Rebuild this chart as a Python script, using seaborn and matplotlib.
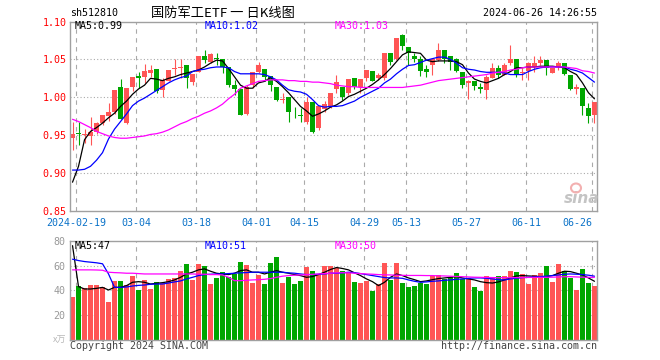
import numpy as np
import pandas as pd
import matplotlib
matplotlib.use("Agg")
import matplotlib.pyplot as plt
import seaborn as sns
from matplotlib.patches import Ellipse

# daily K data, 2024-02-08 .. 2024-06-26 (one candle per trading day)
open_ = [0.946, 0.953, 0.950, 0.949, 0.954, 0.966, 0.975, 0.981, 1.014, 0.966,
         1.013, 1.028, 1.027, 1.032, 1.037, 1.010, 1.022, 1.037, 1.039, 1.042,
         1.020, 1.034, 1.054, 1.047, 1.052, 1.051, 1.040, 1.016, 1.011, 0.978,
         1.016, 1.034, 1.037, 1.028, 1.014, 0.997, 1.000, 0.977, 0.976, 0.968,
         0.994, 0.959, 0.985, 0.988, 1.011, 1.013, 1.006, 1.025, 1.013, 1.025,
         1.035, 1.025, 1.025, 1.059, 1.051, 1.082, 1.067, 1.054, 1.051, 1.037,
         1.042, 1.049, 1.063, 1.054, 1.050, 1.033, 1.019, 1.022, 1.014, 1.009,
         1.026, 1.039, 1.030, 1.045, 1.051, 1.032, 1.035, 1.040, 1.045, 1.049,
         1.032, 1.040, 1.045, 1.029, 1.011, 1.012, 0.986, 0.976]
high = [0.967, 0.967, 0.958, 0.974, 0.968, 0.977, 0.992, 1.010, 1.024, 1.012,
        1.027, 1.034, 1.044, 1.042, 1.037, 1.025, 1.036, 1.051, 1.050, 1.042,
        1.031, 1.054, 1.062, 1.059, 1.058, 1.051, 1.040, 1.023, 1.011, 1.016,
        1.034, 1.046, 1.037, 1.028, 1.014, 1.006, 1.000, 0.987, 0.986, 1.001,
        0.994, 0.988, 0.995, 1.006, 1.030, 1.013, 1.024, 1.025, 1.024, 1.036,
        1.035, 1.032, 1.059, 1.059, 1.078, 1.084, 1.067, 1.059, 1.054, 1.043,
        1.051, 1.072, 1.063, 1.054, 1.052, 1.033, 1.023, 1.022, 1.019, 1.030,
        1.045, 1.043, 1.045, 1.069, 1.051, 1.039, 1.047, 1.055, 1.054, 1.049,
        1.039, 1.048, 1.045, 1.029, 1.017, 1.012, 0.992, 0.994]
low = [0.930, 0.937, 0.940, 0.937, 0.952, 0.963, 0.969, 0.978, 0.972, 0.965,
       1.008, 1.012, 1.019, 1.027, 1.006, 1.000, 1.021, 1.030, 1.025, 1.012,
       1.016, 1.033, 1.045, 1.045, 1.043, 1.032, 1.014, 1.003, 0.976, 0.976,
       1.012, 1.032, 1.021, 1.008, 0.995, 0.992, 0.968, 0.973, 0.968, 0.965,
       0.953, 0.957, 0.981, 0.986, 1.006, 0.997, 1.003, 1.011, 1.006, 1.021,
       1.021, 1.023, 1.023, 1.043, 1.049, 1.062, 1.043, 1.047, 1.028, 1.027,
       1.030, 1.048, 1.045, 1.036, 1.033, 1.012, 0.998, 1.010, 1.006, 0.998,
       1.025, 1.025, 1.030, 1.043, 1.027, 1.023, 1.023, 1.034, 1.042, 1.029,
       1.032, 1.036, 1.030, 1.010, 1.004, 0.976, 0.966, 0.966]
close = [0.951, 0.952, 0.951, 0.954, 0.966, 0.976, 0.980, 1.010, 0.972, 1.012,
         1.027, 1.026, 1.035, 1.036, 1.008, 1.023, 1.036, 1.039, 1.040, 1.025,
         1.031, 1.054, 1.049, 1.057, 1.050, 1.040, 1.016, 1.011, 0.977, 1.013,
         1.034, 1.043, 1.027, 1.016, 0.997, 0.998, 0.981, 0.976, 0.975, 0.994,
         0.954, 0.988, 0.991, 1.006, 1.020, 1.001, 1.024, 1.013, 1.024, 1.036,
         1.022, 1.030, 1.059, 1.046, 1.078, 1.068, 1.059, 1.050, 1.035, 1.033,
         1.050, 1.063, 1.050, 1.046, 1.035, 1.016, 1.022, 1.015, 1.011, 1.027,
         1.039, 1.030, 1.043, 1.051, 1.030, 1.033, 1.045, 1.045, 1.049, 1.038,
         1.038, 1.045, 1.031, 1.011, 1.013, 0.988, 0.975, 0.994]
ma5 = [0.888, 0.909, 0.944, 0.955, 0.960, 0.966, 0.973, 0.979, 0.988, 0.995,
       1.004, 1.011, 1.016, 1.025, 1.024, 1.022, 1.025, 1.027, 1.030, 1.032,
       1.034, 1.036, 1.040, 1.045, 1.049, 1.048, 1.038, 1.027, 1.016, 1.012,
       1.012, 1.019, 1.021, 1.026, 1.021, 1.014, 1.006, 0.997, 0.988, 0.982,
       0.975, 0.978, 0.982, 0.987, 0.990, 0.995, 1.001, 1.004, 1.008, 1.012,
       1.017, 1.023, 1.030, 1.038, 1.047, 1.056, 1.060, 1.059, 1.058, 1.049,
       1.047, 1.048, 1.048, 1.048, 1.047, 1.043, 1.032, 1.024, 1.021, 1.019,
       1.022, 1.025, 1.030, 1.034, 1.039, 1.039, 1.040, 1.040, 1.041, 1.041,
       1.041, 1.040, 1.039, 1.034, 1.030, 1.019, 1.006, 0.998]
ma10 = [0.904, 0.904, 0.905, 0.909, 0.917, 0.927, 0.945, 0.958, 0.968, 0.978,
        0.989, 0.995, 0.999, 1.004, 1.009, 1.014, 1.019, 1.023, 1.026, 1.028,
        1.034, 1.036, 1.037, 1.039, 1.040, 1.040, 1.039, 1.034, 1.031, 1.031,
        1.031, 1.031, 1.030, 1.027, 1.023, 1.016, 1.010, 1.008, 1.007, 1.004,
        0.997, 0.989, 0.987, 0.988, 0.988, 0.989, 0.992, 0.995, 1.000, 1.004,
        1.008, 1.012, 1.019, 1.024, 1.031, 1.037, 1.042, 1.043, 1.046, 1.049,
        1.051, 1.053, 1.053, 1.050, 1.045, 1.039, 1.037, 1.036, 1.034, 1.033,
        1.033, 1.033, 1.032, 1.030, 1.030, 1.030, 1.034, 1.037, 1.039, 1.040,
        1.040, 1.040, 1.040, 1.037, 1.035, 1.032, 1.026, 1.020]
ma30 = [0.971, 0.968, 0.964, 0.960, 0.955, 0.952, 0.949, 0.947, 0.946, 0.946,
        0.947, 0.948, 0.949, 0.951, 0.952, 0.954, 0.957, 0.961, 0.965, 0.968,
        0.972, 0.975, 0.979, 0.982, 0.986, 0.991, 0.998, 1.004, 1.012, 1.015,
        1.018, 1.021, 1.022, 1.023, 1.023, 1.023, 1.022, 1.022, 1.021, 1.021,
        1.020, 1.020, 1.019, 1.018, 1.016, 1.015, 1.014, 1.014, 1.013, 1.013,
        1.013, 1.013, 1.013, 1.013, 1.013, 1.013, 1.014, 1.015, 1.016, 1.018,
        1.020, 1.022, 1.023, 1.024, 1.025, 1.026, 1.027, 1.028, 1.029, 1.030,
        1.032, 1.033, 1.034, 1.036, 1.037, 1.039, 1.040, 1.040, 1.040, 1.040,
        1.040, 1.040, 1.040, 1.039, 1.038, 1.035, 1.034, 1.032]

# volume (x万)
volume = [34.3, 43.8, 41.9, 44.6, 44.6, 43.0, 30.8, 47.8, 47.8, 44.6,
          51.9, 40.5, 48.6, 41.4, 46.8, 45.9, 49.5, 50.3, 55.9, 61.6,
          48.6, 61.6, 60.0, 45.4, 50.3, 55.1, 51.1, 53.5, 63.2, 60.8,
          46.2, 52.7, 45.4, 62.4, 66.5, 46.2, 51.1, 45.4, 47.8, 59.2,
          55.9, 52.7, 60.0, 60.0, 58.1, 55.9, 54.6, 47.0, 45.7, 47.8,
          39.2, 45.1, 61.9, 48.4, 62.4, 46.2, 43.0, 43.8, 45.7, 45.1,
          51.9, 52.7, 49.2, 51.1, 53.8, 49.2, 50.0, 43.0, 39.2, 51.9,
          50.0, 51.9, 51.9, 55.4, 55.1, 53.2, 44.9, 52.7, 54.3, 60.0,
          47.0, 61.1, 55.9, 50.0, 40.5, 56.8, 45.7, 43.2]
vma5 = [76.0, 43.0, 41.1, 41.1, 41.6, 42.4, 40.3, 42.4, 42.4, 43.8,
        46.5, 47.0, 46.5, 45.1, 45.7, 46.2, 47.0, 48.4, 50.5, 53.2,
        54.6, 56.5, 57.3, 55.4, 53.8, 53.2, 52.7, 53.8, 55.9, 56.5,
        54.6, 54.6, 53.2, 54.6, 55.9, 54.6, 53.8, 52.7, 51.9, 50.5,
        51.1, 52.7, 54.6, 56.8, 58.4, 57.6, 56.5, 54.1, 51.9, 49.2,
        47.0, 43.8, 46.5, 50.5, 53.2, 51.9, 50.0, 48.6, 47.0, 47.6,
        48.6, 49.5, 50.0, 50.5, 51.1, 50.0, 49.2, 48.4, 47.0, 46.2,
        45.9, 46.8, 48.4, 50.0, 51.6, 51.9, 51.6, 51.4, 51.1, 51.1,
        51.9, 53.8, 55.4, 55.1, 53.8, 52.4, 50.0, 47.3]
vma10 = [65.1, 64.0, 63.2, 62.7, 62.2, 61.4, 53.2, 42.4, 42.4, 42.7,
         43.5, 44.0, 44.3, 44.9, 45.1, 45.1, 45.9, 46.8, 47.6, 49.2,
         50.5, 51.9, 52.7, 53.0, 53.2, 53.2, 53.5, 53.8, 54.1, 54.3,
         54.6, 54.6, 54.6, 54.6, 54.6, 54.6, 54.1, 53.8, 53.2, 52.7,
         52.7, 53.0, 53.2, 53.8, 53.8, 54.1, 54.6, 54.3, 53.5, 52.7,
         51.9, 51.1, 50.3, 50.0, 50.0, 49.7, 48.4, 47.3, 46.5, 46.8,
         47.3, 47.6, 48.1, 48.4, 48.9, 49.2, 49.7, 50.0, 50.0, 49.7,
         49.2, 48.6, 48.4, 49.2, 49.7, 50.3, 50.5, 50.8, 51.1, 51.4,
         51.9, 52.4, 53.0, 53.2, 53.0, 52.7, 52.2, 51.4]
vma30 = [56.5, 56.5, 56.5, 56.5, 56.4, 56.2, 54.6, 54.3, 54.1, 53.8,
         53.8, 53.5, 53.2, 53.2, 53.2, 53.2, 53.2, 53.2, 53.2, 53.2,
         53.2, 53.0, 53.0, 52.7, 52.7, 52.4, 50.5, 47.8, 47.8, 48.1,
         48.4, 48.6, 48.9, 49.5, 50.5, 51.4, 51.9, 52.2, 52.4, 52.7,
         52.9, 53.2, 53.5, 53.8, 54.1, 54.2, 54.1, 53.8, 53.5, 53.2,
         53.0, 52.7, 52.5, 52.4, 52.2, 52.1, 52.0, 52.0, 52.0, 51.9,
         51.9, 51.7, 51.6, 51.4, 51.2, 51.0, 50.8, 50.6, 50.5, 50.4,
         50.3, 50.2, 50.2, 50.2, 50.3, 50.3, 50.4, 50.4, 50.5, 50.5,
         50.6, 50.8, 51.0, 51.0, 50.8, 50.6, 50.5, 50.5]

tick_pos = [1, 11, 21, 31, 39, 49, 56, 66, 76, 87]
tick_labels = ['2024-02-19', '03-04', '03-18', '04-01', '04-15',
               '04-29', '05-13', '05-27', '06-11', '06-26']
price_ticks = [0.85, 0.90, 0.95, 1.00, 1.05, 1.10]
vol_ticks = [20, 40, 60, 80]

RED = '#FF5555'
GREEN = '#00A600'
BLUE_TXT = '#0A72C8'
FRAME = '#A0A0A0'
GRID = '#AAAAAA'

df = pd.DataFrame({'idx': np.arange(len(close)), 'open': open_, 'high': high,
                   'low': low, 'close': close, 'vol': volume,
                   'ma5': ma5, 'ma10': ma10, 'ma30': ma30,
                   'vma5': vma5, 'vma10': vma10, 'vma30': vma30})
df['dir'] = np.where(df['close'] >= df['open'], 'up', 'down')
cols = np.where(df['dir'] == 'up', RED, GREEN)

sns.set_theme(style='white')
plt.rcParams['font.family'] = ['DejaVu Sans Mono', 'Noto Sans CJK SC']

W, H = 660, 360
fig = plt.figure(figsize=(6.6, 3.6), dpi=100)


def fx(px):
    return px / W


def fy(py):
    return 1 - py / H


ax = fig.add_axes([fx(70), fy(211), fx(597) - fx(70), fy(21.5) - fy(211)])
ax2 = fig.add_axes([fx(70), fy(340), fx(597) - fx(70), fy(240.7) - fy(340)])
grid_x = np.array(tick_pos) - 0.35

# ---- price panel
ax.vlines(grid_x, 0.85, 1.10, colors=GRID, lw=0.8, linestyles=(0, (4, 4)), zorder=1)
for y in price_ticks[1:-1]:
    ax.axhline(y, color=GRID, lw=0.8, ls=(0, (1, 2)), zorder=1)

ax.vlines(df['idx'], df['low'], df['high'], colors=cols, lw=0.8, zorder=3)
body = np.maximum((df['close'] - df['open']).abs(), 0.0013)
ax.bar(df['idx'], body, bottom=np.minimum(df['open'], df['close']), width=0.8,
       color=cols, lw=0, zorder=4)

sns.lineplot(data=df, x='idx', y='ma5', color='black', lw=0.9, ax=ax, zorder=5)
sns.lineplot(data=df, x='idx', y='ma10', color='#0000FF', lw=0.9, ax=ax, zorder=5)
sns.lineplot(data=df, x='idx', y='ma30', color='#FF00FF', lw=0.9, ax=ax, zorder=5)

ax.set_xlim(-0.42, 87.42)
ax.set_ylim(0.85, 1.10)
ax.set_yticks(price_ticks, [f'{v:.2f}' for v in price_ticks])
ax.set_xticks(grid_x, tick_labels)
ax.tick_params(axis='y', length=0, pad=2.5, labelsize=7.2, labelcolor='#FF0000')
ax.tick_params(axis='x', length=0, pad=5, labelsize=7.2, labelcolor=BLUE_TXT)
ax.get_xticklabels()[-1].set_ha('right')
ax.set_xlabel('')
ax.set_ylabel('')

# ---- volume panel
ax2.vlines(grid_x, 0, 80, colors=GRID, lw=0.8, linestyles=(0, (4, 4)), zorder=0)
for y in vol_ticks[:-1]:
    ax2.axhline(y, color=GRID, lw=0.8, ls=(0, (1, 2)), zorder=0)
sns.barplot(data=df, x='idx', y='vol', hue='dir', palette={'up': RED, 'down': GREEN},
            native_scale=True, dodge=False, width=0.8, saturation=1, linewidth=0,
            legend=False, ax=ax2, zorder=2)
sns.lineplot(data=df, x='idx', y='vma5', color='black', lw=0.9, ax=ax2, zorder=5)
sns.lineplot(data=df, x='idx', y='vma10', color='#0000FF', lw=0.9, ax=ax2, zorder=5)
sns.lineplot(data=df, x='idx', y='vma30', color='#FF00FF', lw=0.9, ax=ax2, zorder=5)
ax2.set_xlim(-0.42, 87.42)
ax2.set_ylim(0, 80)
ax2.set_yticks(vol_ticks, [str(v) for v in vol_ticks])
ax2.set_xticks([])
ax2.tick_params(axis='y', length=0, pad=3.5, labelsize=7.2, labelcolor='#999999')
ax2.set_xlabel('')
ax2.set_ylabel('')

for a in (ax, ax2):
    for s in a.spines.values():
        s.set_color(FRAME)
        s.set_linewidth(1)
        s.set_zorder(6)

# ---- texts
fig.text(fx(70), fy(13), 'sh512810', fontsize=7.2, color='black', va='center')
fig.text(fx(223), fy(13), '国防军工ETF 一 日K线图', fontsize=9.5, color='black',
         va='center', ha='center', family=['Noto Sans CJK SC', 'DejaVu Sans'])
fig.text(fx(597), fy(13), '2024-06-26 14:26:55', fontsize=7.2, color='black',
         va='center', ha='right')

fig.text(fx(75), fy(26), 'MA5:0.99', fontsize=7.2, color='black', va='center')
fig.text(fx(205), fy(26), 'MA10:1.02', fontsize=7.2, color='#0000FF', va='center')
fig.text(fx(335), fy(26), 'MA30:1.03', fontsize=7.2, color='#FF00FF', va='center')
fig.text(fx(75), fy(246), 'MA5:47', fontsize=7.2, color='black', va='center')
fig.text(fx(205), fy(246), 'MA10:51', fontsize=7.2, color='#0000FF', va='center')
fig.text(fx(335), fy(246), 'MA30:50', fontsize=7.2, color='#FF00FF', va='center')

fig.text(fx(66), fy(340), 'x万', fontsize=6.5, color='#B8B8B8', va='center', ha='right',
         family=['Noto Sans CJK SC', 'DejaVu Sans'])
fig.text(fx(70), fy(346), 'Copyright 2024 SINA.COM', fontsize=7.2, color='#444444', va='center')
fig.text(fx(597), fy(346), 'http://finance.sina.com.cn', fontsize=7.2, color='#444444',
         va='center', ha='right')

# sina watermark
fig.patches.append(Ellipse((fx(576), fy(188)), fx(10), 9 / H, transform=fig.transFigure,
                           facecolor='none', edgecolor='#F3B0B0', lw=1.5, zorder=10))
fig.text(fx(582), fy(198), 'sina', fontsize=11, fontstyle='italic', fontweight='bold',
         color='#C4C4C4', ha='center', va='center', family='DejaVu Sans')

fig.savefig('out.png', dpi=100)
